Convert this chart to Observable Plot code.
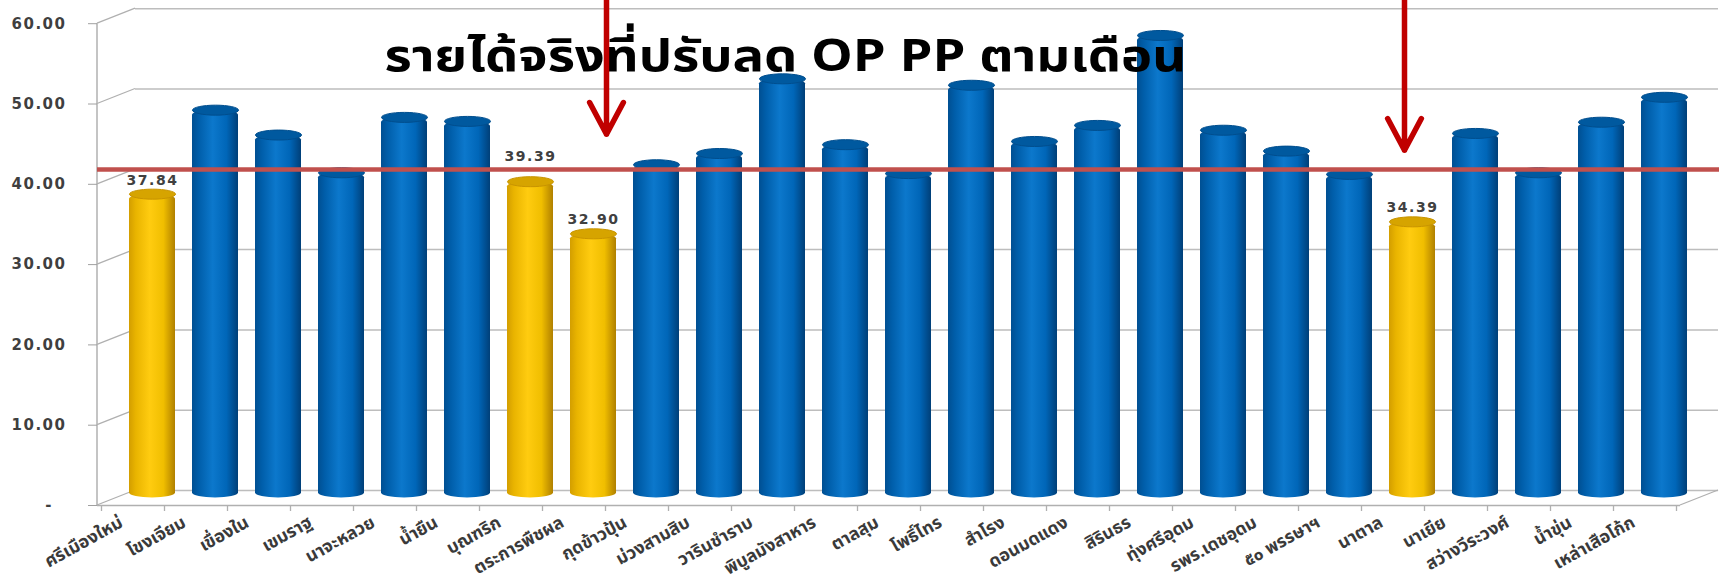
<!DOCTYPE html>
<html><head><meta charset="utf-8">
<script src="https://cdn.jsdelivr.net/npm/d3@7"></script>
<script src="https://cdn.jsdelivr.net/npm/@observablehq/plot@0.6"></script>
<style>
body{margin:0;background:#fff;}
#chart svg{display:block;}
</style></head><body>
<div id="chart"></div>
<script>
// ---- data ----
const hospitals = ["ศรีเมืองใหม่","โขงเจียม","เขื่องใน","เขมราฐ","นาจะหลวย","น้ำยืน","บุณฑริก","ตระการพืชผล","กุดข้าวปุ้น","ม่วงสามสิบ","วารินชำราบ","พิบูลมังสาหาร","ตาลสุม","โพธิ์ไทร","สำโรง","ดอนมดแดง","สิรินธร","ทุ่งศรีอุดม","รพร.เดชอุดม","๕๐ พรรษาฯ","นาตาล","นาเยีย","สว่างวีระวงศ์","น้ำขุ่น","เหล่าเสือโก้ก"];
const values = [37.84,48.3,45.2,40.5,47.4,46.9,39.39,32.90,41.5,42.9,52.2,44.0,40.4,51.4,44.4,46.4,57.6,45.8,43.2,40.3,34.39,45.4,40.5,46.8,49.9];
const highlighted = ["ศรีเมืองใหม่","บุณฑริก","ตระการพืชผล","นาตาล"];
const yTicks = [0,10,20,30,40,50,60];
const referenceLine = [40.9];
const arrowTargets = ["ตระการพืชผล","นาตาล"];
const arrowStart = [62, 62];
const arrowEnd = [45.3, 43.3];
const titleText = "รายได้จริงที่ปรับลด OP PP ตามเดือน";

const data = hospitals.map((h, i) => ({name: h, value: values[i], hi: highlighted.includes(h)}));
const hiData = data.filter(d => d.hi);
const arrows = arrowTargets.map((t, i) => ({name: t, from: arrowStart[i], to: arrowEnd[i]}));

// 3D depth offsets (pixels) used to mimic the Excel 3-D frame
const DX = 19, DY = 7.5;
const thaiFont = "Tahoma, 'Noto Sans Thai', 'Leelawadee UI', 'DejaVu Sans', sans-serif";
const numFont = "'DejaVu Sans', Verdana, sans-serif";

function defs() {
  const svg = d3.create("svg:defs");
  const mk = (id, stops) => {
    const g = svg.append("linearGradient").attr("id", id).attr("x1", 0).attr("x2", 1).attr("y1", 0).attr("y2", 0);
    stops.forEach(([o, c]) => g.append("stop").attr("offset", o).attr("stop-color", c));
  };
  mk("gBlue", [[0, "#004F92"], [0.15, "#005EAA"], [0.45, "#0C78CC"], [0.75, "#0066B8"], [1, "#003F78"]]);
  mk("gGold", [[0, "#D39E00"], [0.15, "#E9B400"], [0.45, "#FFCC10"], [0.75, "#F0BE00"], [1, "#B08000"]]);
  return svg.node();
}

function walls(index, scales, values, dims) {
  const g = d3.create("svg:g").attr("fill", "none");
  const y = scales.y;
  const left = dims.marginLeft - DX;
  const right = dims.width - dims.marginRight - DX;
  const grey = "#B0B0B0";
  g.append("line").attr("x1", left).attr("x2", left).attr("y1", y(60) + DY).attr("y2", y(0) + DY)
    .attr("stroke", grey).attr("stroke-width", 1.5);
  for (const t of yTicks) {
    g.append("line").attr("x1", left).attr("y1", y(t) + DY).attr("x2", left + 2 * DX).attr("y2", y(t) - DY)
      .attr("stroke", grey).attr("stroke-width", 1.3);
  }
  g.append("line").attr("x1", right).attr("y1", y(0) + DY).attr("x2", right + 2 * DX).attr("y2", y(0) - DY)
    .attr("stroke", grey).attr("stroke-width", 1.3);
  const x = scales.x;
  const step = x(hospitals[1]) - x(hospitals[0]);
  const bw = x.bandwidth ? x.bandwidth() : step * 0.73;
  const off = (step - bw) / 2;
  hospitals.forEach((h) => {
    const bx = x(h) - off - DX;
    g.append("line").attr("x1", bx).attr("x2", bx).attr("y1", y(0) + DY).attr("y2", y(0) + DY + 6)
      .attr("stroke", grey).attr("stroke-width", 1.3);
  });
  const lx = x(hospitals[hospitals.length - 1]) + bw + off - DX;
  g.append("line").attr("x1", lx).attr("x2", lx).attr("y1", y(0) + DY).attr("y2", y(0) + DY + 6)
    .attr("stroke", grey).attr("stroke-width", 1.3);
  return g.node();
}

const ellipse = {
  draw(ctx) {
    const a = 23, b = 5, k = 0.5523;
    ctx.moveTo(-a, 0);
    ctx.bezierCurveTo(-a, -k * b, -k * a, -b, 0, -b);
    ctx.bezierCurveTo(k * a, -b, a, -k * b, a, 0);
    ctx.bezierCurveTo(a, k * b, k * a, b, 0, b);
    ctx.bezierCurveTo(-k * a, b, -a, k * b, -a, 0);
    ctx.closePath();
  }
};

const lowLabels = hiData.filter(d => d.name !== "บุณฑริก");
const raisedLabels = hiData.filter(d => d.name === "บุณฑริก");

const chart = Plot.plot({
  width: 1719,
  height: 581,
  marginLeft: 116,
  marginRight: 20,
  marginTop: 15.7,
  marginBottom: 83.5,
  style: {background: "transparent", overflow: "visible"},
  x: {type: "band", domain: hospitals, paddingInner: 0.27, paddingOuter: 0.135, axis: null},
  y: {domain: [0, 60], axis: null},
  marks: [
    defs,
    Plot.ruleY(yTicks, {dx: DX, dy: -DY, stroke: "#BDBDBD", strokeWidth: 1.5}),
    Plot.ruleY([0], {dx: -DX, dy: DY, stroke: "#B0B0B0", strokeWidth: 1.5}),
    walls,
    Plot.axisY({ticks: yTicks, tickFormat: d => d === 0 ? "-\u00a0\u00a0" : d.toFixed(2), dx: -DX, dy: DY,
      tickSize: 9, tickPadding: 22, stroke: "#A0A0A0", fill: "#3F3F3F", fontSize: 15, fontWeight: "bold",
      fontFamily: numFont, label: null, className: "yaxis"}),
    Plot.barY(data, {x: "name", y: "value", fill: d => d.hi ? "url(#gGold)" : "url(#gBlue)", rx: 23, ry: 5}),
    Plot.dot(data, {x: "name", y: "value", symbol: ellipse, r: 5, fill: d => d.hi ? "#D6A400" : "#00599F", stroke: d => d.hi ? "#C89400" : "#004E8E", strokeWidth: 1}),
    Plot.text(lowLabels, {x: "name", y: "value", text: d => d.value.toFixed(2), dy: -14, fill: "#404040",
      fontSize: 14, fontWeight: 600, fontFamily: numFont, className: "dlabels"}),
    Plot.text(raisedLabels, {x: "name", y: "value", text: d => d.value.toFixed(2), dy: -25, fill: "#404040",
      fontSize: 14, fontWeight: 600, fontFamily: numFont, className: "dlabels"}),
    Plot.text(data, {x: "name", frameAnchor: "bottom", text: "name", dx: -DX - 12, dy: 23, rotate: -29,
      textAnchor: "end", lineAnchor: "middle", fill: "#3A3A3A", fontSize: 17.5, fontWeight: "bold", fontFamily: thaiFont}),
    Plot.text([titleText], {frameAnchor: "top-left", dx: 268, dy: 40, text: d => d, textAnchor: "start",
      lineAnchor: "middle", fill: "#000", fontSize: 45, fontWeight: "bold", fontFamily: thaiFont, className: "charttitle"}),
    Plot.ruleY(referenceLine, {stroke: "#C0504D", strokeWidth: 4.5, insetLeft: -DX, insetRight: -20}),
    Plot.arrow([arrows[0]], {x: "name", y1: "from", y2: "to", dx: 13, stroke: "#C00000", strokeWidth: 5.5,
      headLength: 9.8, headAngle: 56, strokeLinecap: "round"}),
    Plot.arrow([arrows[1]], {x: "name", y1: "from", y2: "to", dx: -8, stroke: "#C00000", strokeWidth: 5.5,
      headLength: 9.8, headAngle: 56, strokeLinecap: "round"})
  ]
});
document.getElementById("chart").appendChild(chart);
// letter spacing for numeric labels
chart.querySelectorAll(".yaxis text, .dlabels text").forEach(t => t.style.letterSpacing = "1.5px");
// stretch the title horizontally to the reference width, keeping its left edge fixed
let titleNode = null;
chart.querySelectorAll("text").forEach(t => { if (t.textContent === titleText) titleNode = t; });
if (titleNode) {
  const r = titleNode.getBoundingClientRect();
  const k = 802 / r.width;
  const wrap = document.createElementNS("http://www.w3.org/2000/svg", "g");
  titleNode.parentNode.insertBefore(wrap, titleNode);
  wrap.appendChild(titleNode);
  wrap.setAttribute("transform", `scale(${k},1)`);
  const r2 = titleNode.getBoundingClientRect();
  const delta = r.left - r2.left;
  wrap.setAttribute("transform", `translate(${delta},0) scale(${k},1)`);
}
</script>
</body></html>
